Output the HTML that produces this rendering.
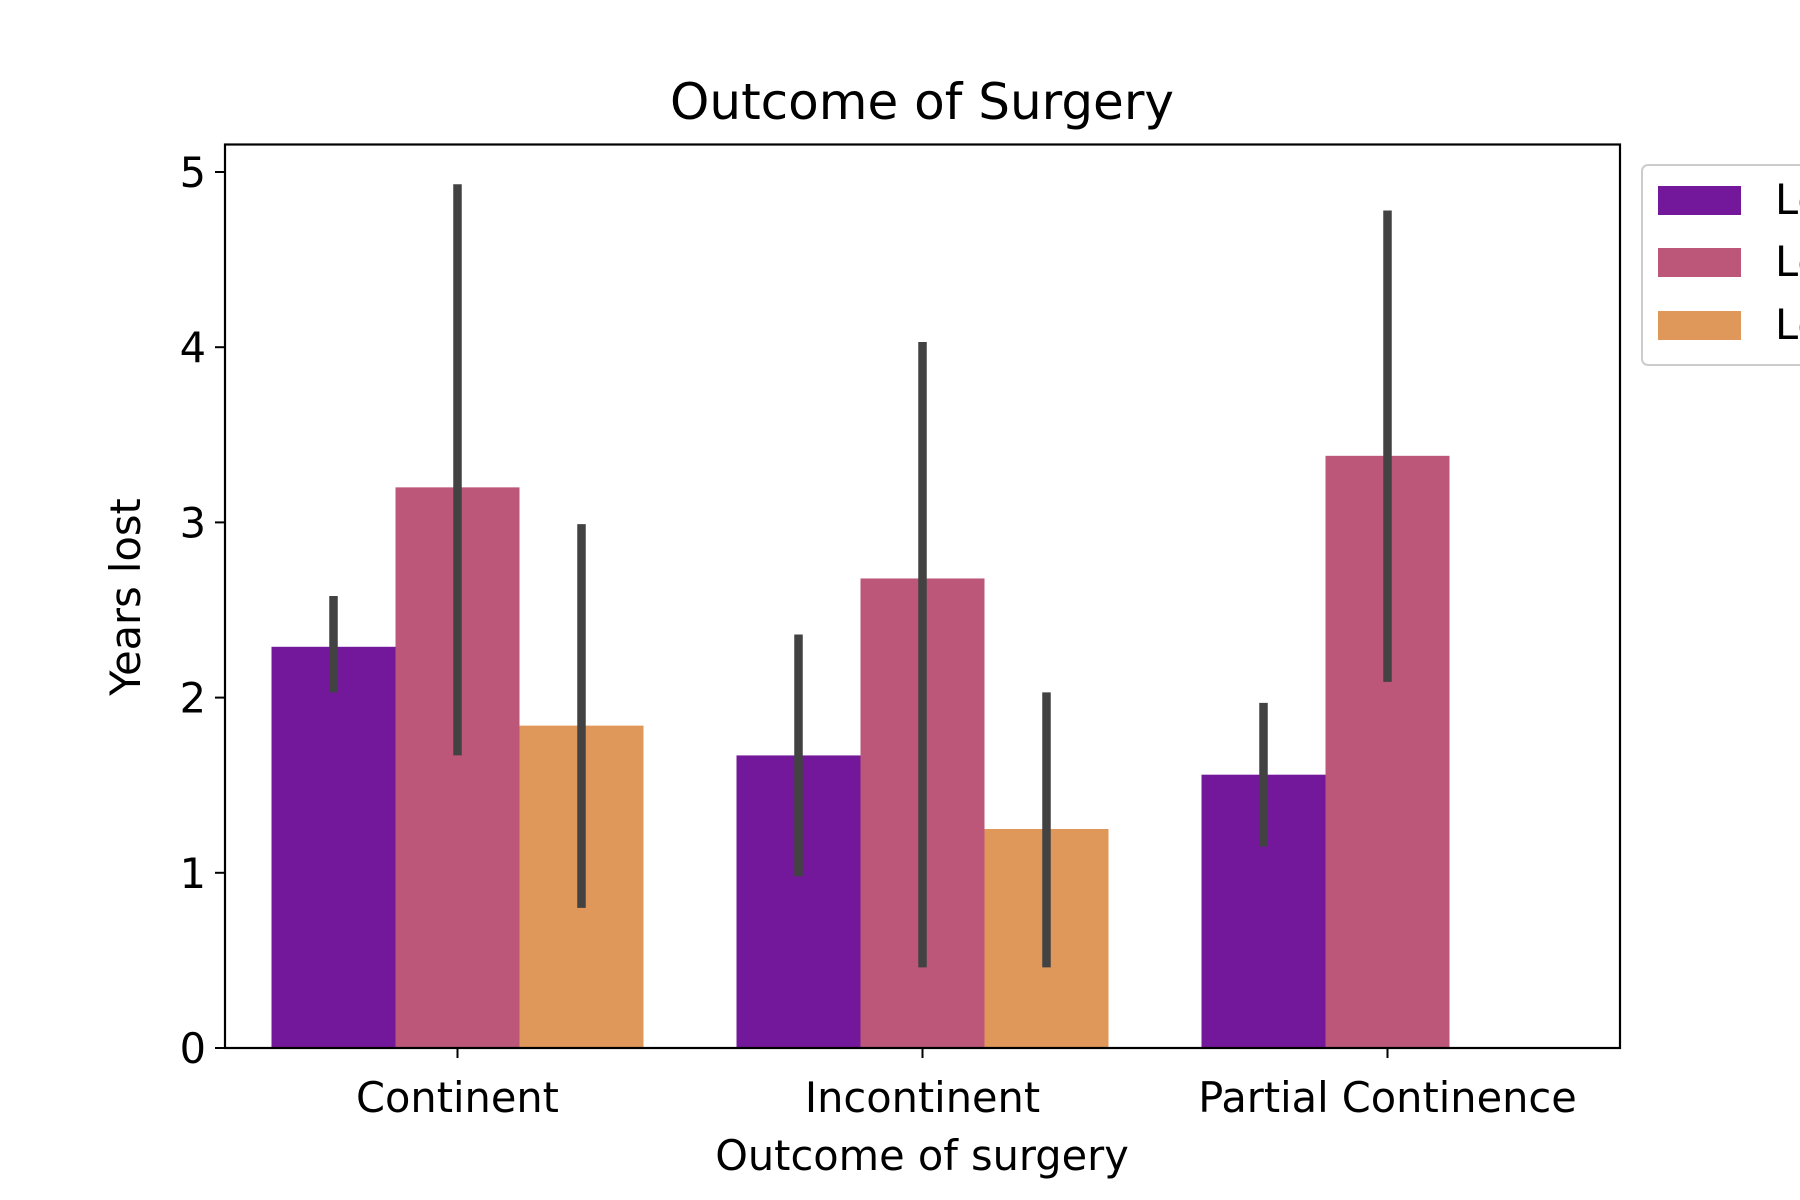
<!DOCTYPE html>
<html><head><meta charset="utf-8"><style>
html,body{margin:0;padding:0;background:#fff;width:1800px;height:1200px;overflow:hidden}
svg{display:block;font-family:"DejaVu Sans","Liberation Sans",sans-serif}
</style></head><body>
<svg id="chart" width="1800" height="1200" viewBox="0 0 1800 1200">
<text x="922" y="119" font-size="50" text-anchor="middle">Outcome of Surgery</text>
<g id="plot"></g>
<rect x="225" y="144.5" width="1395" height="903.5" fill="none" stroke="#000" stroke-width="2.2"/>
<text x="922" y="1170" font-size="41.5" text-anchor="middle">Outcome of surgery</text>
<text transform="translate(140,597) rotate(-90)" font-size="41.5" text-anchor="middle">Years lost</text>
<g>
<rect x="1642" y="165" width="200" height="200" rx="6" fill="#fff" stroke="#ccc" stroke-width="2"/>
<rect x="1658" y="186" width="83" height="29" fill="#73189a"/>
<text x="1775" y="214" font-size="41.5">Level 1</text>
<rect x="1658" y="248" width="83" height="29" fill="#bc5779"/>
<text x="1775" y="276" font-size="41.5">Level 2</text>
<rect x="1658" y="311" width="83" height="29" fill="#e0975a"/>
<text x="1775" y="339" font-size="41.5">Level 3</text>
</g>
</svg>
<script>
const categories=["Continent","Incontinent","Partial Continence"];
const series1=[2.29,1.67,1.56];
const series2=[3.20,2.68,3.38];
const series3=[1.84,1.25,null];
const ci1Low=[2.03,0.98,1.15], ci1High=[2.58,2.36,1.97];
const ci2Low=[1.67,0.46,2.09], ci2High=[4.93,4.03,4.78];
const ci3Low=[0.80,0.46,null], ci3High=[2.99,2.03,null];
const yTicks=[0,1,2,3,4,5];
const colors=["#73189a","#bc5779","#e0975a"];
const NS="http://www.w3.org/2000/svg";
const g=document.getElementById('plot');
const x0=225,x1=1620,yBase=1048,yTop5=172;
const y=v=>yBase-(yBase-yTop5)*v/5;
const bw=(x1-x0)/categories.length;
const cx=i=>x0+bw*(i+0.5);
const barW=124;
function mk(tag,attrs){const e=document.createElementNS(NS,tag);for(const k in attrs)e.setAttribute(k,attrs[k]);g.appendChild(e);return e;}
const S=[series1,series2,series3],L=[ci1Low,ci2Low,ci3Low],H=[ci1High,ci2High,ci3High];
S.forEach((s,si)=>{s.forEach((v,i)=>{
 if(v==null)return;
 const bx=cx(i)+(si-1)*barW-barW/2;
 const r=mk('rect',{x:bx,y:y(v),width:barW,height:yBase-y(v),fill:colors[si]});
 
 
});});
S.forEach((s,si)=>{s.forEach((v,i)=>{
 if(L[si][i]==null)return;
 const ex=cx(i)+(si-1)*barW;
 const l=mk('line',{x1:ex,x2:ex,y1:y(L[si][i]),y2:y(H[si][i]),stroke:'#424242','stroke-width':8.5});
 
 
});});
yTicks.forEach(t=>{
 const tk=mk('line',{x1:x0-10,x2:x0,y1:y(t),y2:y(t),stroke:'#000','stroke-width':2});
 
 
 const tx=mk('text',{x:x0-19,y:y(t)+15,'font-size':41.5,'text-anchor':'end'});
 tx.textContent=t;
 
 
});
categories.forEach((c,i)=>{
 const tk=mk('line',{x1:cx(i),x2:cx(i),y1:yBase,y2:yBase+10,stroke:'#000','stroke-width':2});
 
 
 const tx=mk('text',{x:cx(i),y:1112,'font-size':41.5,'text-anchor':'middle'});
 tx.textContent=c;
 
 
});
</script>
</body></html>
